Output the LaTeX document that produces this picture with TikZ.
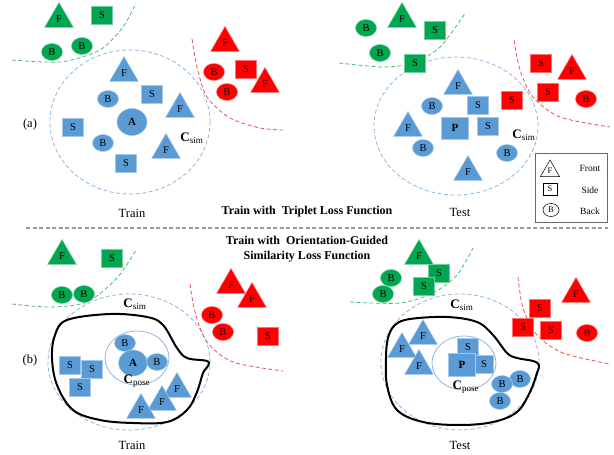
\documentclass[tikz,border=0pt]{standalone}
\usepackage{fontspec}
\setmainfont{Liberation Serif}
\usetikzlibrary{shapes.geometric}
\definecolor{sblue}{HTML}{5B9BD5}
\definecolor{sgreen}{HTML}{00A650}
\definecolor{sred}{HTML}{FF0000}
\definecolor{cblue}{HTML}{8FB8DE}
\definecolor{gdashc}{HTML}{4DBB7A}
\definecolor{rdashc}{HTML}{E05555}
\tikzset{
 shp/.style={inner sep=0pt, font=\fontsize{10.5}{11}\selectfont, text=black},
 tri/.style={shp, regular polygon, regular polygon sides=3, minimum size=33pt},
 sq/.style={shp, rectangle, minimum width=21pt, minimum height=18pt},
 bk/.style={shp, ellipse, minimum width=21pt, minimum height=17pt},
 bl/.style={fill=sblue, draw=sblue!55!white, line width=0.5pt},
 gr/.style={fill=sgreen, draw=sgreen!55!white, line width=0.5pt},
 rd/.style={fill=sred, draw=sred!55!white, line width=0.5pt, text=black!85!red},
 simc/.style={draw=cblue, dash pattern=on 4pt off 2.5pt, line width=0.8pt},
 posec/.style={draw=cblue, line width=0.8pt},
 gdash/.style={draw=gdashc, dash pattern=on 4pt off 2.5pt, line width=0.8pt},
 rdash/.style={draw=rdashc, dash pattern=on 4pt off 2.5pt, line width=0.8pt},
 bound/.style={draw=black, line width=2pt},
 lbl/.style={font=\fontsize{12.5}{14}\selectfont, inner sep=0pt},
 csim/.style={font=\fontsize{13}{14}\selectfont, inner sep=0pt},
 ttl/.style={font=\fontsize{12}{15}\selectfont\bfseries, inner sep=0pt, align=center},
 leg/.style={font=\fontsize{9.5}{10}\selectfont, inner sep=0pt},
 legs/.style={shp, draw=black, line width=0.5pt, fill=white, font=\fontsize{8.5}{9}\selectfont},
}
\begin{document}
\begin{tikzpicture}[x=1pt,y=-1pt]
\useasboundingbox (0,0) rectangle (614,455);
\fill[white] (0,0) rectangle (614,455);

% ---------- (a) Train ----------
\node[simc, ellipse, minimum width=160pt, minimum height=144pt] (a1sim) at (130,122) {};
\draw[gdash] plot[smooth] coordinates {(12,60) (45,62) (67,61) (100,50) (123,27) (136,3)};
\draw[rdash] plot[smooth] coordinates {(192,39) (197,67) (207,97) (230,118) (260,128) (283,130)};
\node[tri, gr] (a1g1) at (59,19) {F};
\node[sq, gr] (a1g2) at (102,15) {S};
\node[bk, gr] (a1g3) at (52,52) {B};
\node[bk, gr] (a1g4) at (82,46) {B};
\node[tri, rd] (a1r1) at (225,43) {F};
\node[bk, rd] (a1r2) at (214,72) {B};
\node[sq, rd] (a1r3) at (246,69) {S};
\node[tri, rd] (a1r4) at (265,84) {F};
\node[bk, rd] (a1r5) at (227,92) {B};
\node[tri, bl] (a1b1) at (124,73) {F};
\node[bk, bl] (a1b2) at (108,99) {B};
\node[sq, bl] (a1b3) at (152,94) {S};
\node[tri, bl] (a1b4) at (180,109) {F};
\node[shp, ellipse, bl, minimum width=30pt, minimum height=27pt, font=\fontsize{11}{12}\selectfont\bfseries] (a1A) at (132,122) {A};
\node[sq, bl] (a1b5) at (73,127) {S};
\node[bk, bl] (a1b6) at (103,143) {B};
\node[tri, bl] (a1b7) at (166,150) {F};
\node[sq, bl] (a1b8) at (126,163) {S};
\node[csim] (a1c) at (192,138) {\textbf{C}\textsubscript{sim}};
\node[lbl] (alab) at (30,124) {(a)};
\node[lbl] (a1t) at (132,213) {Train};

% ---------- (a) Test ----------
\node[simc, ellipse, minimum width=164pt, minimum height=138pt] (a2sim) at (456,126) {};
\draw[gdash] plot[smooth] coordinates {(339,63) (383,67) (413,63) (440,47) (466,12)};
\draw[rdash] plot[smooth] coordinates {(514,40) (520,70) (533,97) (560,117) (610,127)};
\node[bk, gr] (a2g1) at (366,28) {B};
\node[tri, gr] (a2g2) at (402,19) {F};
\node[sq, gr] (a2g3) at (435,30) {S};
\node[bk, gr] (a2g4) at (380,53) {B};
\node[sq, gr] (a2g5) at (415,63) {S};
\node[sq, rd] (a2r1) at (541,63) {S};
\node[tri, rd] (a2r2) at (572,71) {F};
\node[sq, rd] (a2r3) at (548,92) {S};
\node[bk, rd] (a2r4) at (586,99) {B};
\node[sq, rd] (a2r5) at (512,100) {S};
\node[tri, bl] (a2b1) at (458,86) {F};
\node[bk, bl] (a2b2) at (432,106) {B};
\node[sq, bl] (a2b3) at (478,105) {S};
\node[tri, bl] (a2b4) at (408,128) {F};
\node[shp, rectangle, bl, minimum width=27pt, minimum height=22pt, font=\fontsize{11}{12}\selectfont\bfseries] (a2P) at (455,128) {P};
\node[sq, bl] (a2b5) at (488,126) {S};
\node[bk, bl] (a2b6) at (423,148) {B};
\node[bk, bl] (a2b7) at (507,153) {B};
\node[tri, bl] (a2b8) at (468,172) {F};
\node[csim] (a2c) at (524,135) {\textbf{C}\textsubscript{sim}};
\node[lbl] (a2t) at (460,212) {Test};

% legend
\node[draw=black!60, line width=0.8pt, minimum width=72pt, minimum height=69pt, inner sep=0pt] (legend) at (571,187.5) {};
\node[legs, regular polygon, regular polygon sides=3, minimum size=22pt] (lgF) at (550,171) {F};
\node[legs, rectangle, minimum width=14pt, minimum height=12pt] (lgS) at (550,189) {S};
\node[legs, ellipse, minimum width=16pt, minimum height=13pt] (lgB) at (551,210) {B};
\node[leg] (lgFt) at (590,168) {Front};
\node[leg] (lgSt) at (590,190) {Side};
\node[leg] (lgBt) at (590,211) {Back};

% titles and separator
\node[ttl] (t1) at (307,212) {Train with\enspace Triplet Loss Function};
\coordinate (sepL) at (26,228);
\coordinate (sepR) at (608,228);
\draw[black!40, line width=1.5pt, dash pattern=on 4pt off 2.5pt] (sepL) -- (sepR);
\node[ttl] (t2) at (307,249.5) {Train with\enspace Orientation-Guided\\Similarity Loss Function};

% ---------- (b) Train ----------
\node[simc, ellipse, minimum width=162pt, minimum height=136pt] (b1sim) at (129,362) {};
\draw[gdash] plot[smooth] coordinates {(12,304) (50,307) (87,302) (117,278) (136,250)};
\draw[rdash] plot[smooth] coordinates {(190,284) (195,312) (207,342) (233,362) (283,371)};
\draw[bound] plot[smooth cycle, tension=0.6] coordinates {(110,314) (147,317) (163,325) (177,348) (187,358) (207,361) (208,366) (203,373) (197,392) (187,410) (167,422) (133,423) (100,420) (73,410) (57,385) (52,358) (55,335) (67,320)};
\node[posec, ellipse, minimum width=64pt, minimum height=54pt] (b1pose) at (137,358) {};
\node[tri, gr] (b1g1) at (62,256) {F};
\node[sq, gr] (b1g2) at (112,258) {S};
\node[bk, gr] (b1g3) at (62,295) {B};
\node[bk, gr] (b1g4) at (84,294) {B};
\node[tri, rd] (b1r1) at (231,285) {F};
\node[tri, rd] (b1r2) at (252,299) {F};
\node[bk, rd] (b1r3) at (212,315) {B};
\node[bk, rd] (b1r4) at (223,332) {B};
\node[sq, rd] (b1r5) at (268,336) {S};
\node[bk, bl] (b1b1) at (125,343) {B};
\node[shp, ellipse, bl, minimum width=29pt, minimum height=26pt, font=\fontsize{11}{12}\selectfont\bfseries] (b1A) at (133,363) {A};
\node[bk, bl] (b1b2) at (157,362) {B};
\node[sq, bl] (b1b3) at (70,365) {S};
\node[sq, bl] (b1b4) at (92,369) {S};
\node[sq, bl] (b1b5) at (80,387) {S};
\node[tri, bl] (b1b6) at (177,389) {F};
\node[tri, bl] (b1b7) at (162,402) {F};
\node[tri, bl] (b1b8) at (141,410) {F};
\node[csim] (b1c) at (135,304) {\textbf{C}\textsubscript{sim}};
\node[csim] (b1cp) at (137,381) {\textbf{C}\textsubscript{pose}};
\node[lbl] (blab) at (30,360) {(b)};
\node[lbl] (b1t) at (132,445) {Train};

% ---------- (b) Test ----------
\node[simc, ellipse, minimum width=158pt, minimum height=136pt] (b2sim) at (460,362) {};
\draw[gdash] plot[smooth] coordinates {(350,302) (400,303) (433,293) (457,275) (473,248)};
\draw[rdash] plot[smooth] coordinates {(518,277) (523,308) (537,335) (563,353) (610,364)};
\draw[bound] plot[smooth cycle, tension=0.6] coordinates {(410,319) (447,317) (477,322) (493,335) (507,353) (517,358) (533,361) (539,365) (537,373) (530,392) (517,412) (493,422) (460,425) (423,422) (397,410) (387,385) (386,358) (388,338) (395,325)};
\node[posec, ellipse, minimum width=64pt, minimum height=54pt] (b2pose) at (464,363) {};
\node[tri, gr] (b2g1) at (419,256) {F};
\node[sq, gr] (b2g2) at (439,273) {S};
\node[sq, gr] (b2g3) at (424,286) {S};
\node[bk, gr] (b2g4) at (391,278) {B};
\node[bk, gr] (b2g5) at (383,294) {B};
\node[tri, rd] (b2r1) at (576,294) {F};
\node[sq, rd] (b2r2) at (540,308) {S};
\node[sq, rd] (b2r3) at (523,327) {S};
\node[sq, rd] (b2r4) at (551,330) {S};
\node[bk, rd] (b2r5) at (587,333) {B};
\node[tri, bl] (b2b1) at (423,336) {F};
\node[tri, bl] (b2b2) at (402,349) {F};
\node[tri, bl] (b2b3) at (419,366) {F};
\node[sq, bl] (b2b4) at (468,347) {S};
\node[sq, bl, minimum width=19pt, minimum height=18pt] (b2b5) at (484,364) {S};
\node[shp, rectangle, bl, minimum width=27pt, minimum height=23pt, font=\fontsize{11}{12}\selectfont\bfseries] (b2P) at (462,365) {P};
\node[bk, bl] (b2b6) at (520,379) {B};
\node[bk, bl] (b2b7) at (502,384) {B};
\node[bk, bl] (b2b8) at (500,401) {B};
\node[csim] (b2c) at (462,305) {\textbf{C}\textsubscript{sim}};
\node[csim] (b2cp) at (466,387) {\textbf{C}\textsubscript{pose}};
\node[lbl] (b2t) at (460,445) {Test};
\end{tikzpicture}
\end{document}
